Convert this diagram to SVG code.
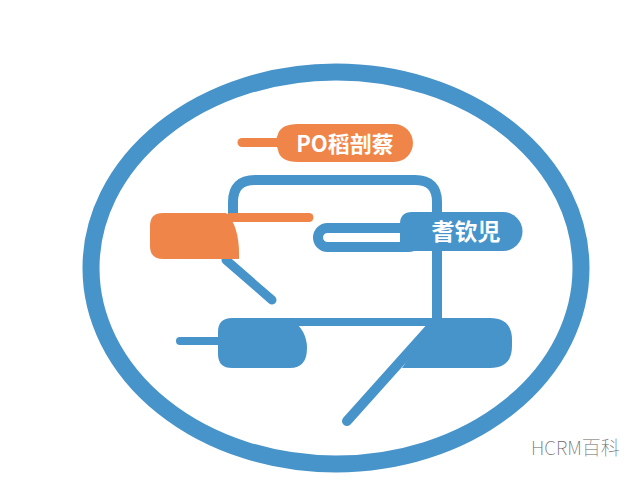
<svg xmlns="http://www.w3.org/2000/svg" width="640" height="480" viewBox="0 0 640 480">
  <style>
    .blue { fill: #4794CA; }
    .orange { fill: #F0854A; }
    .bl { stroke: #4794CA; fill: none; stroke-linecap: round; stroke-linejoin: round; }
    .ol { stroke: #F0854A; fill: none; stroke-linecap: round; }
    .lbl { font-family: "Noto Sans CJK SC", "Noto Sans", sans-serif; font-weight: 700; fill: #ffffff; text-anchor: middle; }
    .wm { font-family: "Noto Sans CJK SC", "Noto Sans", sans-serif; font-weight: 100; fill: #666666; font-size: 19px; }
  </style>
  <rect width="640" height="480" fill="#ffffff"/>
  <g id="frame">
    <ellipse cx="336" cy="268" rx="245" ry="196" fill="none" stroke="#4794CA" stroke-width="17"/>
  </g>
  <g id="connectors">
    <path class="bl" stroke-width="10" d="M 233 216 V 202 Q 233 180 255 180 H 415 Q 437 180 437 202 V 320"/>
    <line class="bl" stroke-width="9" x1="226" y1="260" x2="272" y2="300"/>
    <line class="bl" stroke-width="10" x1="433" y1="325" x2="347" y2="421"/>
    <line class="bl" stroke-width="8" x1="180" y1="341" x2="222" y2="341"/>
    <rect class="blue" x="290" y="318" width="150" height="8"/>
    <line class="ol" stroke-width="9" x1="230" y1="217.5" x2="309" y2="217.5"/>
    <line class="ol" stroke-width="9" x1="242" y1="142.5" x2="282" y2="142.5"/>
    <rect x="318" y="228" width="100" height="19" rx="9.5" fill="#ffffff" stroke="#4794CA" stroke-width="10"/>
  </g>
  <g id="node-top">
    <path class="orange" d="M 298 124 H 394 A 19 19 0 0 1 394 162 H 298 Q 280 162 278 150 Q 276 142 270 142 Q 276 142 278 134 Q 281 124 298 124 Z"/>
    <text class="lbl" x="345" y="152" font-size="22">PO稻剖蔡</text>
  </g>
  <g id="node-orange-left">
    <path class="orange" d="M 163 213 H 226 Q 240 226 239 259 H 163 Q 150 259 150 246 V 226 Q 150 213 163 213 Z"/>
  </g>
  <g id="node-right">
    <path class="blue" d="M 412 212 H 503 A 19.5 19.5 0 0 1 503 251 H 400 V 224 Q 400 212 412 212 Z"/>
    <text class="lbl" x="466" y="240" font-size="23">耆钦児</text>
  </g>
  <g id="node-bottom-left">
    <path class="blue" d="M 232 318 H 290 Q 307 330 307 348 Q 307 368 290 368 H 232 Q 218 368 218 354 V 332 Q 218 318 232 318 Z"/>
  </g>
  <g id="node-bottom-right">
    <path class="blue" d="M 436 318 H 490 Q 512 318 512 340 V 346 Q 512 368 490 368 H 402 Z"/>
  </g>
  <text class="wm" x="531" y="455">HCRM百科</text>
</svg>
